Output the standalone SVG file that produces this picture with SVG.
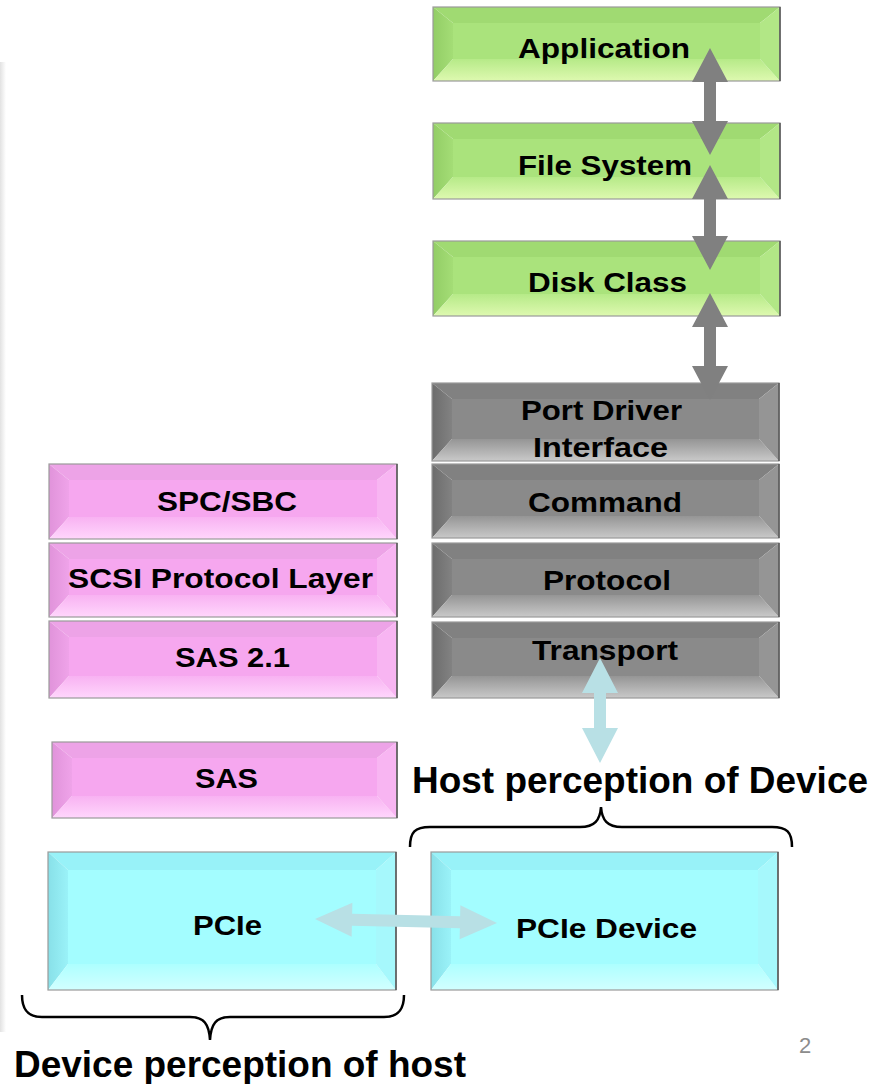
<svg xmlns="http://www.w3.org/2000/svg" width="882" height="1084" viewBox="0 0 882 1084">
<defs>
<linearGradient id="edge" x1="0" y1="0" x2="1" y2="0"><stop offset="0" stop-color="#e2e2e2"/><stop offset="1" stop-color="#ffffff"/></linearGradient>
<linearGradient id="gB" x1="0" y1="0" x2="0" y2="1"><stop offset="0" stop-color="#b6ea88"/><stop offset="1" stop-color="#def9b0"/></linearGradient>
<linearGradient id="kB" x1="0" y1="0" x2="0" y2="1"><stop offset="0" stop-color="#959595"/><stop offset="1" stop-color="#c9c9c9"/></linearGradient>
<linearGradient id="pB" x1="0" y1="0" x2="0" y2="1"><stop offset="0" stop-color="#f8b2f2"/><stop offset="1" stop-color="#ffd6fc"/></linearGradient>
<linearGradient id="cB" x1="0" y1="0" x2="0" y2="1"><stop offset="0" stop-color="#adffff"/><stop offset="1" stop-color="#d2ffff"/></linearGradient>
<linearGradient id="gL" x1="0" y1="0" x2="1" y2="0"><stop offset="0" stop-color="#92cd65"/><stop offset="1" stop-color="#a4dd76"/></linearGradient>
<linearGradient id="kL" x1="0" y1="0" x2="1" y2="0"><stop offset="0" stop-color="#6c6c6c"/><stop offset="1" stop-color="#828282"/></linearGradient>
<linearGradient id="pL" x1="0" y1="0" x2="1" y2="0"><stop offset="0" stop-color="#e093da"/><stop offset="1" stop-color="#efa3e9"/></linearGradient>
<linearGradient id="cL" x1="0" y1="0" x2="1" y2="0"><stop offset="0" stop-color="#88e0e8"/><stop offset="1" stop-color="#9af2f8"/></linearGradient>
</defs>
<style>
.g .c{fill:#aae37c}.g .t{fill:#a0da72}.g .l{fill:url(#gL)}.g .b{fill:url(#gB)}.g .r{fill:#b2e786}
.k .c{fill:#8a8a8a}.k .t{fill:#818181}.k .l{fill:url(#kL)}.k .b{fill:url(#kB)}.k .r{fill:#959595}
.p .c{fill:#f6a7ef}.p .t{fill:#eda3e7}.p .l{fill:url(#pL)}.p .b{fill:url(#pB)}.p .r{fill:#f8b5f2}
.y .c{fill:#a3fdff}.y .t{fill:#98f2f8}.y .l{fill:url(#cL)}.y .b{fill:url(#cB)}.y .r{fill:#a6f8fc}
.o{fill:none;stroke:#9a9a9a;stroke-width:1.2}
.rd{stroke:#555;stroke-width:1.5}
.lbl{font-family:"Liberation Sans",Arial,sans-serif;font-weight:bold;font-size:28px;fill:#000}
.big{font-family:"Liberation Sans",Arial,sans-serif;font-weight:bold;font-size:36px;fill:#000}
.brace{fill:none;stroke:#000;stroke-width:2.5}
</style>
<rect x="0" y="62" width="6" height="970" fill="url(#edge)"/>

<g id="application" class="g">
<rect class="c" x="453" y="23" width="307" height="36"/>
<polygon class="t" points="433,7 780,7 760,23 453,23"/>
<polygon class="l" points="433,7 453,23 453,59 433,81"/>
<polygon class="b" points="433,81 453,59 760,59 780,81"/>
<polygon class="r" points="780,7 780,81 760,59 760,23"/>
<rect class="o" x="433" y="7" width="347" height="74"/><line class="rd" x1="780" y1="7" x2="780" y2="81"/>
<text class="lbl" x="518" y="58" textLength="172" lengthAdjust="spacingAndGlyphs">Application</text>
</g>
<g id="file-system" class="g">
<rect class="c" x="453" y="139" width="307" height="38"/>
<polygon class="t" points="433,123 780,123 760,139 453,139"/>
<polygon class="l" points="433,123 453,139 453,177 433,199"/>
<polygon class="b" points="433,199 453,177 760,177 780,199"/>
<polygon class="r" points="780,123 780,199 760,177 760,139"/>
<rect class="o" x="433" y="123" width="347" height="76"/><line class="rd" x1="780" y1="123" x2="780" y2="199"/>
<text class="lbl" x="518" y="175" textLength="174" lengthAdjust="spacingAndGlyphs">File System</text>
</g>
<g id="disk-class" class="g">
<rect class="c" x="453" y="257" width="307" height="37"/>
<polygon class="t" points="433,241 780,241 760,257 453,257"/>
<polygon class="l" points="433,241 453,257 453,294 433,316"/>
<polygon class="b" points="433,316 453,294 760,294 780,316"/>
<polygon class="r" points="780,241 780,316 760,294 760,257"/>
<rect class="o" x="433" y="241" width="347" height="75"/><line class="rd" x1="780" y1="241" x2="780" y2="316"/>
<text class="lbl" x="528" y="292" textLength="159" lengthAdjust="spacingAndGlyphs">Disk Class</text>
</g>

<g id="port-driver" class="k">
<rect class="c" x="452" y="399" width="307" height="40"/>
<polygon class="t" points="432,383 779,383 759,399 452,399"/>
<polygon class="l" points="432,383 452,399 452,439 432,461"/>
<polygon class="b" points="432,461 452,439 759,439 779,461"/>
<polygon class="r" points="779,383 779,461 759,439 759,399"/>
<rect class="o" x="432" y="383" width="347" height="78"/><line class="rd" x1="779" y1="383" x2="779" y2="461"/>
<text class="lbl" x="521" y="420" textLength="161" lengthAdjust="spacingAndGlyphs">Port Driver</text>
<text class="lbl" x="533" y="457" textLength="135" lengthAdjust="spacingAndGlyphs">Interface</text>
</g>
<g id="command" class="k">
<rect class="c" x="452" y="480" width="307" height="36"/>
<polygon class="t" points="432,464 779,464 759,480 452,480"/>
<polygon class="l" points="432,464 452,480 452,516 432,538"/>
<polygon class="b" points="432,538 452,516 759,516 779,538"/>
<polygon class="r" points="779,464 779,538 759,516 759,480"/>
<rect class="o" x="432" y="464" width="347" height="74"/><line class="rd" x1="779" y1="464" x2="779" y2="538"/>
<text class="lbl" x="528" y="512" textLength="154" lengthAdjust="spacingAndGlyphs">Command</text>
</g>
<g id="protocol" class="k">
<rect class="c" x="452" y="559" width="307" height="36"/>
<polygon class="t" points="432,543 779,543 759,559 452,559"/>
<polygon class="l" points="432,543 452,559 452,595 432,617"/>
<polygon class="b" points="432,617 452,595 759,595 779,617"/>
<polygon class="r" points="779,543 779,617 759,595 759,559"/>
<rect class="o" x="432" y="543" width="347" height="74"/><line class="rd" x1="779" y1="543" x2="779" y2="617"/>
<text class="lbl" x="543" y="590" textLength="128" lengthAdjust="spacingAndGlyphs">Protocol</text>
</g>
<g id="transport" class="k">
<rect class="c" x="452" y="638" width="307" height="38"/>
<polygon class="t" points="432,622 779,622 759,638 452,638"/>
<polygon class="l" points="432,622 452,638 452,676 432,698"/>
<polygon class="b" points="432,698 452,676 759,676 779,698"/>
<polygon class="r" points="779,622 779,698 759,676 759,638"/>
<rect class="o" x="432" y="622" width="347" height="76"/><line class="rd" x1="779" y1="622" x2="779" y2="698"/>
<text class="lbl" x="532" y="660" textLength="146" lengthAdjust="spacingAndGlyphs">Transport</text>
</g>

<g id="spc-sbc" class="p">
<rect class="c" x="69" y="480" width="308" height="37"/>
<polygon class="t" points="49,464 397,464 377,480 69,480"/>
<polygon class="l" points="49,464 69,480 69,517 49,539"/>
<polygon class="b" points="49,539 69,517 377,517 397,539"/>
<polygon class="r" points="397,464 397,539 377,517 377,480"/>
<rect class="o" x="49" y="464" width="348" height="75"/><line class="rd" x1="397" y1="464" x2="397" y2="539"/>
<text class="lbl" x="157" y="511" textLength="140" lengthAdjust="spacingAndGlyphs">SPC/SBC</text>
</g>
<g id="scsi-protocol-layer" class="p">
<rect class="c" x="69" y="559" width="308" height="36"/>
<polygon class="t" points="49,543 397,543 377,559 69,559"/>
<polygon class="l" points="49,543 69,559 69,595 49,617"/>
<polygon class="b" points="49,617 69,595 377,595 397,617"/>
<polygon class="r" points="397,543 397,617 377,595 377,559"/>
<rect class="o" x="49" y="543" width="348" height="74"/><line class="rd" x1="397" y1="543" x2="397" y2="617"/>
<text class="lbl" x="68" y="588" textLength="305" lengthAdjust="spacingAndGlyphs">SCSI Protocol Layer</text>
</g>
<g id="sas-2-1" class="p">
<rect class="c" x="69" y="637" width="308" height="39"/>
<polygon class="t" points="49,621 397,621 377,637 69,637"/>
<polygon class="l" points="49,621 69,637 69,676 49,698"/>
<polygon class="b" points="49,698 69,676 377,676 397,698"/>
<polygon class="r" points="397,621 397,698 377,676 377,637"/>
<rect class="o" x="49" y="621" width="348" height="77"/><line class="rd" x1="397" y1="621" x2="397" y2="698"/>
<text class="lbl" x="175" y="667" textLength="115" lengthAdjust="spacingAndGlyphs">SAS 2.1</text>
</g>
<g id="sas" class="p">
<rect class="c" x="72" y="758" width="305" height="38"/>
<polygon class="t" points="52,742 397,742 377,758 72,758"/>
<polygon class="l" points="52,742 72,758 72,796 52,818"/>
<polygon class="b" points="52,818 72,796 377,796 397,818"/>
<polygon class="r" points="397,742 397,818 377,796 377,758"/>
<rect class="o" x="52" y="742" width="345" height="76"/><line class="rd" x1="397" y1="742" x2="397" y2="818"/>
<text class="lbl" x="195" y="788" textLength="63" lengthAdjust="spacingAndGlyphs">SAS</text>
</g>

<g id="pcie" class="y">
<rect class="c" x="68" y="870" width="308" height="94"/>
<polygon class="t" points="48,852 396,852 376,870 68,870"/>
<polygon class="l" points="48,852 68,870 68,964 48,990"/>
<polygon class="b" points="48,990 68,964 376,964 396,990"/>
<polygon class="r" points="396,852 396,990 376,964 376,870"/>
<rect class="o" x="48" y="852" width="348" height="138"/><line class="rd" x1="396" y1="852" x2="396" y2="990"/>
<text class="lbl" x="193" y="935" textLength="69" lengthAdjust="spacingAndGlyphs">PCIe</text>
</g>
<g id="pcie-device" class="y">
<rect class="c" x="451" y="870" width="307" height="94"/>
<polygon class="t" points="431,852 778,852 758,870 451,870"/>
<polygon class="l" points="431,852 451,870 451,964 431,990"/>
<polygon class="b" points="431,990 451,964 758,964 778,990"/>
<polygon class="r" points="778,852 778,990 758,964 758,870"/>
<rect class="o" x="431" y="852" width="347" height="138"/><line class="rd" x1="778" y1="852" x2="778" y2="990"/>
<text class="lbl" x="516" y="938" textLength="181" lengthAdjust="spacingAndGlyphs">PCIe Device</text>
</g>

<g id="connectors">
<polygon fill="#808080" points="710,48 728,82 716,82 716,121 728,121 710,155 692,121 704,121 704,82 692,82"/>
<polygon fill="#808080" points="710,165 728,199 716,199 716,236 728,236 710,270 692,236 704,236 704,199 692,199"/>
<polygon fill="#808080" points="710,293 728,327 716,327 716,366 728,366 710,400 692,366 704,366 704,327 692,327"/>
<polygon fill="#b8e0e5" points="600,658 618,693 606,693 606,728 618,728 600,763 582,728 594,728 594,693 582,693"/>
<polygon fill="#b8e0e5" transform="rotate(1.26 406 921)" points="315,921 352,904 352,915 460,915 460,904 497,921 460,938 460,927 352,927 352,938"/>
</g>

<g id="host-perception">
<path class="brace" d="M410,847 C410,832 415,827 430,827 L580,827 C595,827 600,820 601,807 C602,820 607,827 622,827 L772,827 C787,827 792,832 792,847"/>
<text class="big" x="412" y="793" textLength="456" lengthAdjust="spacingAndGlyphs">Host perception of Device</text>
</g>
<g id="device-perception">
<path class="brace" d="M22,995 C22,1010 28,1017 42,1017 L190,1017 C204,1017 209,1024 210,1040 C211,1024 216,1017 230,1017 L384,1017 C398,1017 404,1010 404,995"/>
<text class="big" x="14" y="1077" textLength="452" lengthAdjust="spacingAndGlyphs">Device perception of host</text>
</g>
<text x="799" y="1053" font-family="Liberation Sans, Arial, sans-serif" font-size="22" fill="#8c8c8c">2</text>
</svg>
